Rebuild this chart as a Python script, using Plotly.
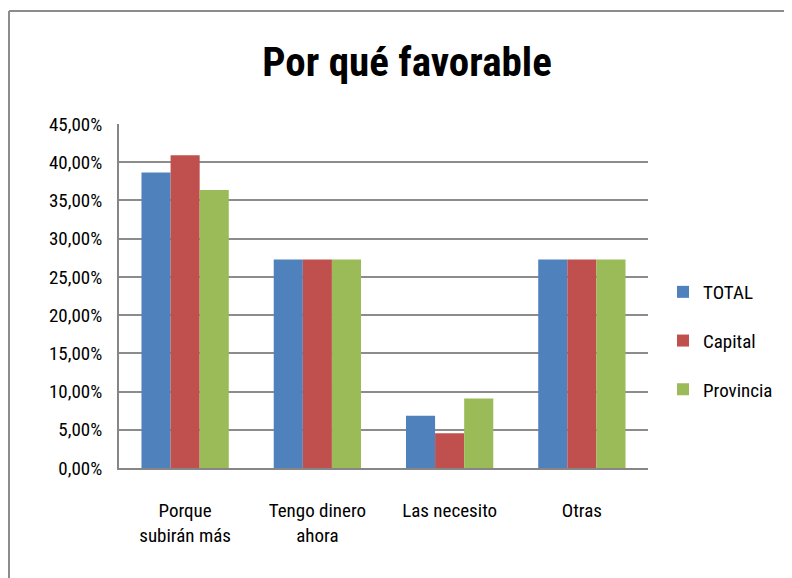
import plotly.graph_objects as go

# Chart data (shares)
categories = ["Porque<br>subirán más", "Tengo dinero<br>ahora", "Las necesito", "Otras"]
total = [0.3864, 0.2727, 0.0682, 0.2727]
capital = [0.4091, 0.2727, 0.0455, 0.2727]
provincia = [0.3636, 0.2727, 0.0909, 0.2727]
series_names = ["TOTAL", "Capital", "Provincia"]
y_ticks = [i * 0.05 for i in range(10)]
y_tick_labels = [f"{v * 100:.2f}%".replace(".", ",") for v in y_ticks]

COLORS = {"TOTAL": "#4F81BD", "Capital": "#C0504D", "Provincia": "#9BBB59"}
FONT = "Liberation Sans Narrow, Roboto Condensed, Open Sans, sans-serif"

fig = go.Figure()
for name, values in zip(series_names, [total, capital, provincia]):
    fig.add_trace(go.Bar(
        x=categories,
        y=values,
        name=name,
        legendgroup=name,
        marker=dict(color=COLORS[name], line=dict(width=0)),
    ))

# page body has an 8px margin, so work in shifted coordinates
OFF = 8
W, H = 792 - OFF, 578 - OFF
L, T = 119 - OFF, 124 - OFF
pw, ph = 648 - 119, 468 - 124
R, B = W - L - pw, H - T - ph

# outer chart border (left edge sits right at the figure edge)
border_x = (OFF + 1 - 119) / pw
border_y = 1 + (124 - 11) / ph

fig.update_layout(
    width=W,
    height=H,
    margin=dict(l=L, r=R, t=T, b=B, autoexpand=False),
    paper_bgcolor="white",
    plot_bgcolor="white",
    font=dict(family=FONT, size=19, color="#000000"),
    title=dict(
        text="<b>Por qué favorable</b>",
        font=dict(family=FONT, size=41, color="#000000"),
        x=(407 - OFF) / W, xanchor="center", xref="container",
        y=1 - (62 - OFF) / H, yanchor="middle", yref="container",
    ),
    barmode="group",
    bargap=0.34,
    bargroupgap=0,
    showlegend=True,
    legend=dict(
        x=(663 - 119) / pw, xanchor="left",
        y=1 - (273 - 124) / ph, yanchor="top",
        font=dict(family=FONT, size=19),
        tracegroupgap=21,
        itemwidth=30,
        bgcolor="rgba(0,0,0,0)",
    ),
    xaxis=dict(
        showgrid=False,
        showline=True,
        linecolor="#868686",
        linewidth=2,
        ticks="",
        ticklabelstandoff=24,
        tickfont=dict(size=19),
    ),
    yaxis=dict(
        range=[0, 0.45],
        tickvals=y_ticks,
        ticktext=y_tick_labels,
        showgrid=True,
        gridcolor="#8c8c8c",
        gridwidth=2,
        showline=True,
        linecolor="#868686",
        linewidth=2,
        ticks="",
        ticklabelstandoff=11,
        zeroline=False,
        tickfont=dict(size=19),
    ),
    shapes=[
        dict(type="line", xref="paper", yref="paper",
             x0=border_x, x1=(800 - 119) / pw,
             y0=border_y, y1=border_y,
             line=dict(color="#8c8c8c", width=2)),
        dict(type="line", xref="paper", yref="paper",
             x0=border_x, x1=border_x,
             y0=border_y, y1=-(600 - 468) / ph,
             line=dict(color="#8c8c8c", width=2)),
    ],
)

fig.write_html("out.html")
